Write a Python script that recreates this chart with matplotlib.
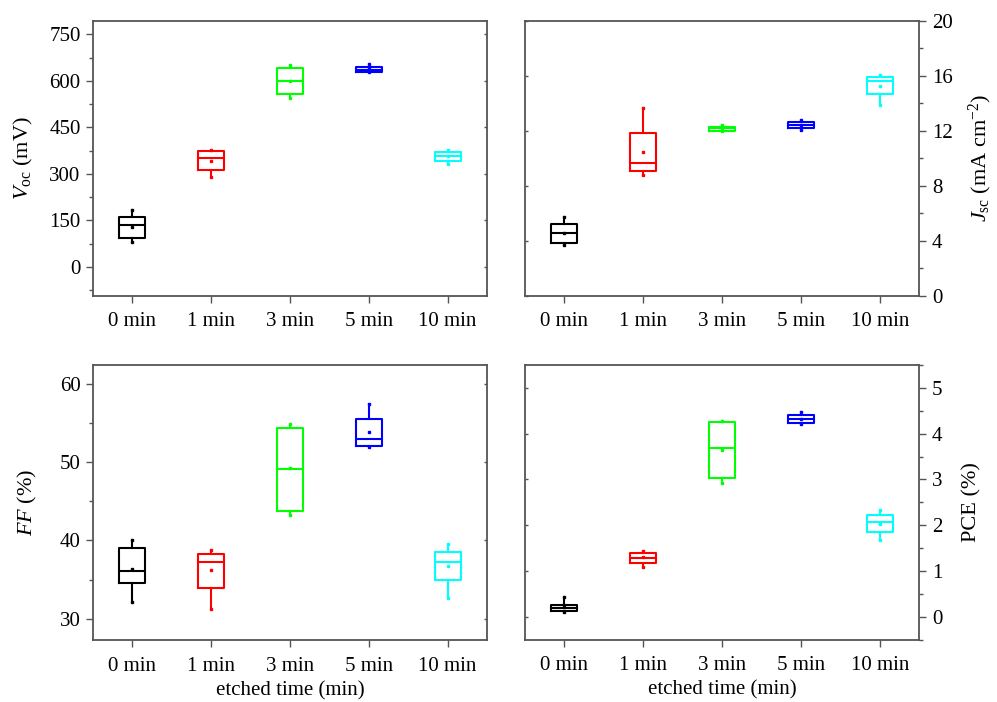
import matplotlib
matplotlib.use("Agg")
import matplotlib.pyplot as plt
from matplotlib.ticker import MultipleLocator

plt.rcParams['font.family'] = ['Liberation Serif', 'DejaVu Serif']
plt.rcParams['mathtext.fontset'] = 'custom'
plt.rcParams['mathtext.rm'] = 'Liberation Serif'
plt.rcParams['mathtext.it'] = 'Liberation Serif:italic'

categories = ["0 min", "1 min", "3 min", "5 min", "10 min"]
colors = ["#000000", "#ff0000", "#00ff00", "#0000ff", "#00ffff"]

# Voc (mV)
voc_lo = [79, 289, 546, 630, 333]
voc_q1 = [92, 312, 557, 630, 343]
voc_med = [136, 352, 600, 636, 357]
voc_q3 = [160, 373, 642, 644, 370]
voc_hi = [185, 377, 652, 653, 377]
voc_mean = [130, 341, 600, 640, 356]

# Jsc (mA cm^-2)
jsc_lo = [3.69, 8.76, 11.97, 12.04, 13.89]
jsc_q1 = [3.85, 9.07, 12.00, 12.22, 14.67]
jsc_med = [4.54, 9.67, 12.17, 12.44, 15.64]
jsc_q3 = [5.21, 11.85, 12.29, 12.66, 15.88]
jsc_hi = [5.70, 13.63, 12.39, 12.78, 16.03]
jsc_mean = [4.58, 10.45, 12.17, 12.44, 15.28]

# FF (%)
ff_lo = [32.2, 31.2, 43.3, 51.9, 32.7]
ff_q1 = [34.6, 34.0, 43.8, 52.0, 34.9]
ff_med = [36.1, 37.3, 49.1, 52.9, 37.2]
ff_q3 = [39.0, 38.3, 54.3, 55.5, 38.5]
ff_hi = [40.0, 38.8, 54.9, 57.4, 39.6]
ff_mean = [36.3, 36.2, 49.2, 53.8, 36.7]

# PCE (%)
pce_lo = [0.10, 1.09, 2.93, 4.21, 1.67]
pce_q1 = [0.12, 1.17, 3.03, 4.23, 1.85]
pce_med = [0.18, 1.29, 3.69, 4.32, 2.06]
pce_q3 = [0.26, 1.40, 4.26, 4.40, 2.22]
pce_hi = [0.42, 1.44, 4.28, 4.47, 2.33]
pce_mean = [0.20, 1.30, 3.64, 4.32, 2.03]

W, H = 997, 702
fig = plt.figure(figsize=(W / 100, H / 100), dpi=100)

def ax_at(l, t, r, b):
    return fig.add_axes([l / W, 1 - b / H, (r - l) / W, (b - t) / H])

spine_col = '#555555'
FS = 15
LFS = 16

def draw(ax, lo, q1, med, q3, hi, mean, right=False):
    for i, c in enumerate(colors):
        st = [dict(whislo=lo[i], q1=q1[i], med=med[i], q3=q3[i],
                   whishi=hi[i], mean=mean[i], fliers=[])]
        ax.bxp(st, positions=[i], widths=0.33, showmeans=True, showcaps=False,
               showfliers=False, patch_artist=False,
               boxprops=dict(color=c, lw=1.5),
               medianprops=dict(color=c, lw=1.5),
               whiskerprops=dict(color=c, lw=1.5),
               meanprops=dict(marker='s', markersize=1.5, markerfacecolor=c,
                              markeredgecolor=c))
        ax.plot([i, i], [lo[i], hi[i]], ls='none', marker='s', ms=2.0,
                color=c)
    ax.set_xlim(-0.5, 4.5)
    ax.set_xticks(range(5))
    ax.set_xticklabels(categories, fontsize=FS)
    for s in ax.spines.values():
        s.set_color(spine_col)
        s.set_linewidth(1.3)
    ax.tick_params(axis='x', direction='out', length=5, width=1,
                   color=spine_col, labelsize=FS, pad=7, top=False)
    ax.tick_params(axis='y', which='major', direction='out', length=5,
                   width=1, color=spine_col, labelsize=FS, pad=4)
    ax.tick_params(axis='y', which='minor', direction='out', length=3,
                   width=1, color=spine_col)
    if right:
        ax.yaxis.tick_right()
        ax.yaxis.set_label_position('right')
    # tiny ticks on the opposite spine
    twin = ax.secondary_yaxis('left' if right else 'right')
    twin.tick_params(axis='y', which='both', direction='in', length=2,
                     width=1, color=spine_col, labelleft=False,
                     labelright=False)
    twin.spines[('left' if right else 'right')].set_visible(False)
    twin.set_yticks(ax.get_yticks())

ax1 = ax_at(93, 20.7, 487, 295.7)
ax1.set_ylim(-93, 794)
ax1.set_yticks([0, 150, 300, 450, 600, 750])
ax1.yaxis.set_minor_locator(MultipleLocator(75))
draw(ax1, voc_lo, voc_q1, voc_med, voc_q3, voc_hi, voc_mean)
ax1.set_ylabel(r'$V_{\mathrm{oc}}$ (mV)', fontsize=LFS, labelpad=10)

ax2 = ax_at(525, 20.7, 919.3, 295.7)
ax2.set_ylim(0, 20)
ax2.yaxis.set_major_locator(MultipleLocator(4))
ax2.yaxis.set_minor_locator(MultipleLocator(2))
draw(ax2, jsc_lo, jsc_q1, jsc_med, jsc_q3, jsc_hi, jsc_mean, right=True)
ax2.set_ylabel(r'$J_{\mathrm{sc}}$ (mA cm$^{-2}$)', fontsize=LFS,
               labelpad=10)

ax3 = ax_at(93, 365, 487, 640)
ax3.set_ylim(27.3, 62.4)
ax3.yaxis.set_major_locator(MultipleLocator(10))
ax3.yaxis.set_minor_locator(MultipleLocator(5))
draw(ax3, ff_lo, ff_q1, ff_med, ff_q3, ff_hi, ff_mean)
ax3.set_ylabel(r'$FF$ (%)', fontsize=LFS, labelpad=15)
ax3.set_xlabel('etched time (min)', fontsize=FS, labelpad=4)

ax4 = ax_at(525, 365, 919.3, 639.5)
ax4.set_ylim(-0.5, 5.5)
ax4.yaxis.set_major_locator(MultipleLocator(1))
ax4.yaxis.set_minor_locator(MultipleLocator(0.5))
draw(ax4, pce_lo, pce_q1, pce_med, pce_q3, pce_hi, pce_mean, right=True)
ax4.set_ylabel('PCE (%)', fontsize=LFS, labelpad=14)
ax4.set_xlabel('etched time (min)', fontsize=FS, labelpad=4)

fig.savefig('out.png', dpi=100)
